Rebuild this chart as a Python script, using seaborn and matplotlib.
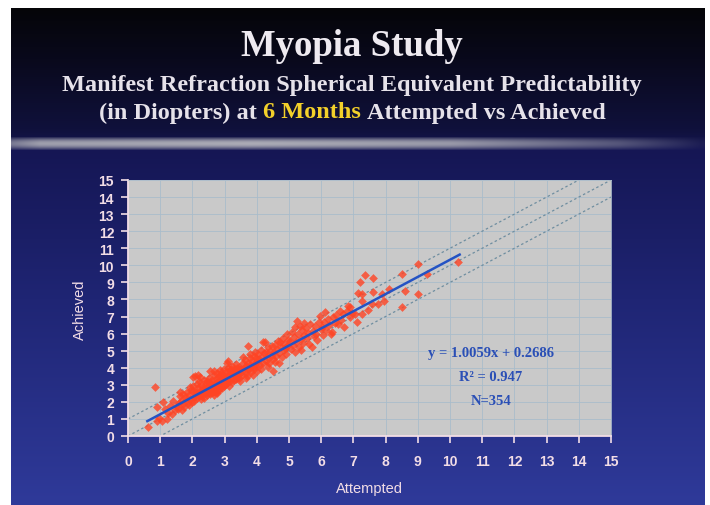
import numpy as np
import matplotlib
matplotlib.use('Agg')
import matplotlib.pyplot as plt
import seaborn as sns

# Attempted vs achieved correction (D)
attempted = [
    0.63, 0.84, 0.89, 0.89, 1.05, 1.10, 1.15, 1.20, 1.36, 1.30, 1.45, 0.95, 1.25, 1.40,
    1.51, 1.61, 1.72, 1.82, 1.93, 1.55, 1.65, 1.70, 1.75, 1.80, 1.85, 1.90, 1.95, 1.60, 1.78, 1.88, 1.98, 1.68, 1.92, 1.58,
    2.03, 2.08, 2.03, 2.13, 2.05, 2.10, 2.15, 2.18, 2.20, 2.22, 2.25, 2.28, 2.30, 2.32, 2.35, 2.38, 2.40, 2.42,
    2.45, 2.48, 2.50, 2.12, 2.17, 2.27, 2.37, 2.44, 2.06, 2.24, 2.34, 2.46, 2.02, 2.19, 2.29, 2.41, 2.49,
    2.55, 2.52, 2.55, 2.58, 2.60, 2.62, 2.65, 2.68, 2.70, 2.72, 2.75, 2.78, 2.80, 2.82, 2.85, 2.88, 2.90, 2.92, 2.95, 2.98,
    2.57, 2.63, 2.67, 2.73, 2.77, 2.83, 2.87, 2.93, 2.97, 2.54, 2.66, 2.71, 2.79, 2.84, 2.89, 2.96, 2.61, 2.76, 2.86, 2.99,
    3.02, 3.05, 3.08, 3.10, 3.12, 3.14, 3.16, 3.18, 3.20, 3.22, 3.25, 3.28, 3.30, 3.32, 3.35, 3.38, 3.40, 3.42,
    3.45, 3.48, 3.04, 3.09, 3.13, 3.19, 3.24, 3.29, 3.34, 3.39, 3.44, 3.49, 3.06, 3.21, 3.36, 3.47, 3.11,
    3.52, 3.55, 3.58, 3.60, 3.63, 3.65, 3.68, 3.70, 3.74, 3.72, 3.75, 3.78, 3.79, 3.80,
    3.83, 3.85, 3.88, 3.90, 3.92, 3.94, 3.95, 3.98, 3.57, 3.67, 3.77, 3.87, 3.97, 3.62,
    4.00, 4.02, 4.05, 4.08, 4.10, 4.13, 4.15, 4.18, 4.20, 4.22, 4.25, 4.28, 4.30, 4.33, 4.36, 4.38, 4.41, 4.44, 4.47, 4.49, 4.12, 4.35,
    4.51, 4.53, 4.56, 4.60, 4.63, 4.66, 4.70, 4.72, 4.75, 4.78, 4.80, 4.83, 4.86, 4.90, 4.93, 4.95, 4.98, 4.58, 4.68, 4.88,
    5.03, 5.05, 5.08, 5.12, 5.15, 5.18, 5.22, 5.24, 5.28, 5.30, 5.34, 5.36, 5.40, 5.43, 5.46, 5.48, 5.20, 5.38,
    5.52, 5.55, 5.60, 5.63, 5.66, 5.70, 5.73, 5.77, 5.80, 5.84, 5.88, 5.92, 5.96, 5.98,
    6.02, 6.06, 6.10, 6.12, 6.16, 6.20, 6.25, 6.30, 6.33, 6.37, 6.42, 6.47,
    6.52, 6.58, 6.62, 6.69, 6.72, 6.79, 6.84, 6.89, 6.89, 6.95,
    7.05, 7.15, 7.20, 7.26, 7.26, 7.26, 7.36, 7.57, 7.62, 7.62, 7.77, 7.10, 7.45,
    7.88, 8.50, 8.50, 8.60, 9.02, 9.02, 9.28, 10.26, 8.10, 7.95,
]
achieved = [
    0.51, 2.85, 1.68, 0.90, 0.90, 1.97, 1.58, 1.00, 1.29, 1.75, 1.55, 1.05, 1.35, 2.05,
    1.78, 2.36, 1.87, 2.56, 2.17, 1.60, 2.05, 2.45, 1.70, 2.10, 1.95, 2.40, 2.70, 2.55, 2.30, 1.80, 2.00, 1.55, 2.85, 1.95,
    2.95, 3.53, 3.44, 3.05, 2.30, 2.60, 2.20, 2.80, 3.20, 2.45, 2.65, 3.00, 2.35, 2.90, 3.30, 2.55, 2.75, 3.10,
    2.40, 2.95, 3.40, 2.45, 3.60, 2.15, 2.20, 2.60, 2.05, 3.45, 2.70, 3.20, 2.65, 2.35, 2.55, 2.90, 2.50,
    3.83, 2.70, 2.45, 3.05, 2.85, 3.30, 2.55, 3.60, 2.75, 3.10, 2.95, 3.45, 2.65, 3.20, 3.85, 2.90, 3.35, 3.05, 3.60, 3.15,
    2.60, 2.95, 2.40, 3.35, 2.50, 3.00, 3.55, 2.80, 3.95, 3.15, 3.80, 2.60, 3.15, 2.75, 3.70, 3.30, 2.55, 3.70, 3.25, 2.95,
    3.40, 3.75, 3.10, 4.00, 4.41, 3.55, 3.25, 3.85, 3.45, 4.10, 3.65, 3.30, 3.95, 3.60, 4.20, 3.45, 3.80, 3.55,
    4.05, 3.70, 3.05, 3.55, 2.95, 3.70, 3.15, 3.75, 3.35, 4.00, 3.40, 3.90, 4.25, 3.90, 3.70, 3.25, 3.30,
    3.95, 3.60, 4.25, 3.85, 4.45, 3.70, 4.10, 3.50, 5.29, 4.30, 3.90, 4.55, 4.80, 4.15,
    3.75, 4.40, 4.05, 4.70, 3.90, 4.90, 4.25, 4.55, 4.60, 3.40, 4.00, 3.60, 4.10, 4.05,
    3.83, 4.35, 4.80, 4.50, 4.15, 5.05, 4.60, 4.30, 5.49, 4.85, 5.49, 4.40, 4.95, 4.65, 5.20, 4.25, 5.00, 4.70, 5.30, 4.50, 3.95, 4.05,
    3.83, 4.95, 5.35, 4.70, 5.10, 5.55, 4.85, 5.49, 5.20, 4.60, 5.75, 5.05, 5.40, 4.80, 5.98, 5.25, 5.60, 4.35, 4.25, 5.15,
    5.58, 5.10, 6.10, 5.35, 5.80, 6.40, 5.50, 6.75, 6.00, 5.20, 6.46, 5.70, 6.20, 5.45, 6.60, 5.90, 4.95, 5.05,
    6.30, 5.75, 6.05, 5.40, 6.55, 5.20, 6.15, 5.85, 6.45, 6.00, 5.60, 6.70, 7.05, 6.25,
    6.40, 5.90, 6.70, 7.25, 6.20, 6.85, 6.50, 5.95, 6.07, 6.95, 6.60, 7.10,
    6.55, 7.34, 6.80, 7.15, 6.40, 7.34, 7.63, 7.54, 6.95, 7.20,
    7.15, 8.40, 9.00, 7.93, 7.15, 8.32, 9.43, 7.73, 9.24, 8.42, 7.73, 6.70, 7.40,
    8.32, 7.54, 9.49, 8.50, 10.07, 8.32, 9.49, 10.17, 8.60, 7.90,
]

slope, intercept = 1.0059, 0.2686
fit_range = [0.6, 10.3]
band_offsets = [-1, 0, 1]
ticks = list(range(16))

TXT = '#f2dde6'
W, H = 710, 506

fig = plt.figure(figsize=(7.1, 5.06), dpi=100)

# slide background: vertical navy gradient plus the grey separator bar
img = np.ones((H, W, 3))
rows = np.arange(H)
stops_y = [9, 60, 130, 150, 300, 506]
stops_c = ['#050508', '#09091c', '#10113c', '#151654', '#1f2574', '#2f3a9a']
rgb = np.array([matplotlib.colors.to_rgb(c) for c in stops_c])
grad = np.stack([np.interp(rows, stops_y, rgb[:, k]) for k in range(3)], axis=1)
img[9:, 11:705, :] = grad[9:, None, :]
cols = np.arange(W)
hprof = np.interp(cols, [12, 40, 250, 450, 620, 700], [0.55, 0.75, 0.82, 0.72, 0.35, 0.05])
for r in range(137, 151):
    v = np.sin(np.pi * (r - 137) / 14.0)
    a = (hprof * v)[11:705, None]
    img[r, 11:705, :] = img[r, 11:705, :] * (1 - a) + np.array([0.8, 0.8, 0.8]) * a
bg = fig.add_axes([0, 0, 1, 1], zorder=-1)
bg.imshow(img, aspect='auto', interpolation='bilinear')
bg.axis('off')

ax = fig.add_axes([128 / W, 1 - 437 / H, 483 / W, 256 / H])
ax.set_facecolor('#c9c9c9')

xx = np.array([0, 15])
for off in band_offsets:
    ax.plot(xx, xx + off, linestyle=(0, (2, 2)), color='#6f8ea0', lw=0.9, zorder=2)

sns.scatterplot(x=attempted, y=achieved, ax=ax, marker='D', s=20,
                color='#ff4424', linewidth=0, alpha=0.8, zorder=3)
fx = np.array(fit_range)
sns.lineplot(x=fx, y=slope * fx + intercept, ax=ax, color='#2453c4', lw=1.8, zorder=4)

ax.set_xlim(0, 15)
ax.set_ylim(0, 15)
ax.set_xticks(ticks)
ax.set_yticks(ticks)
ax.grid(True, color='#a9bccb', lw=0.6)
ax.set_axisbelow(True)
for s in ['top', 'right']:
    ax.spines[s].set_color('#b0bfcc')
    ax.spines[s].set_linewidth(0.6)
for s in ['left', 'bottom']:
    ax.spines[s].set_color(TXT)
    ax.spines[s].set_linewidth(1.3)
ax.tick_params(direction='out', length=5, width=1.2, color=TXT, labelcolor=TXT,
               labelsize=10)
ax.tick_params(axis='x', pad=8)
ax.tick_params(axis='y', pad=5)
for lab in ax.get_xticklabels() + ax.get_yticklabels():
    lab.set_family('Liberation Sans')
    lab.set_fontweight('bold')

fig.text(80 / W, 1 - 310 / H, 'Achieved', rotation=90, ha='center', va='center',
         color=TXT, fontsize=10.5, family='Liberation Sans')
fig.text(369 / W, 1 - 489 / H, 'Attempted', ha='center', va='center',
         color=TXT, fontsize=10.5, family='Liberation Sans')

ann = ['y = 1.0059x + 0.2686', 'R² = 0.947', 'N=354']
for i, t in enumerate(ann):
    ax.text(11.27, 4.92 - 1.41 * i, t, ha='center', va='center', color='#2a4fb6',
            fontsize=10.5, fontweight='bold', family='Liberation Serif')

# titles
serif = dict(family='Liberation Serif', fontweight='bold')
fig.text(352 / W, 1 - 47 / H, 'Myopia Study', ha='center', va='center',
         color='#eeeaf0', fontsize=26.5, **serif)
fig.text(352 / W, 1 - 85 / H, 'Manifest Refraction Spherical Equivalent Predictability',
         ha='center', va='center', color='#e6e2ea', fontsize=17.5, **serif)

parts = [('(in Diopters) at', '#e6e2ea'), ('6 Months', '#f3d02a'),
         ('Attempted vs Achieved', '#e6e2ea')]
renderer = fig.canvas.get_renderer()
texts = [fig.text(0, 1 - 113 / H, p, ha='left', va='center', color=c,
                  fontsize=17.5, **serif) for p, c in parts]
sp = fig.text(0, 0, 'a a', fontsize=17.5, **serif)
sp2 = fig.text(0, 0, 'aa', fontsize=17.5, **serif)
space = (sp.get_window_extent(renderer).width - sp2.get_window_extent(renderer).width) / W
sp.remove()
sp2.remove()
widths = [t.get_window_extent(renderer).width / W for t in texts]
total = sum(widths) + 2 * space
x0 = 352 / W - total / 2
for t, w in zip(texts, widths):
    t.set_x(x0)
    x0 += w + space

fig.savefig('out.png', dpi=100)
